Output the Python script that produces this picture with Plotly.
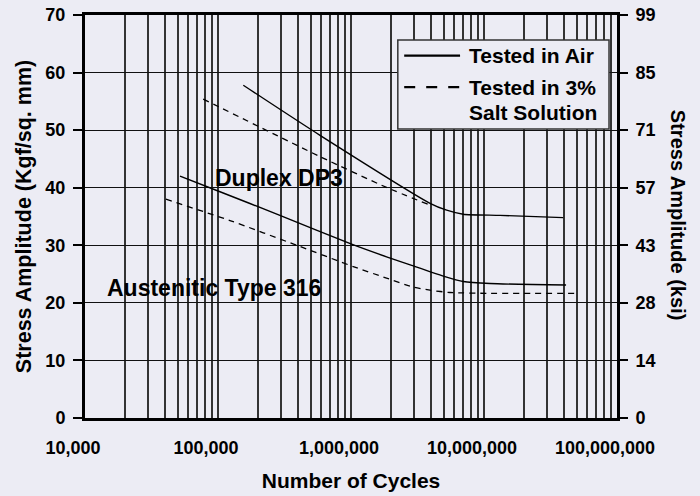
import plotly.graph_objects as go

# ---------------- data ----------------
duplex_air_x = [155000, 585000, 3930000, 5240000, 6980000, 13200000, 39400000]
duplex_air_y = [57.8, 49.1, 37.3, 36.1, 35.4, 35.2, 34.8]

duplex_salt_x = [77400, 585000, 1850000, 3810000]
duplex_salt_y = [55.4, 45.4, 40.05, 37.1]

aus_air_x = [51800, 103500, 292000, 1010000, 1850000, 2860000, 4940000, 6980000, 11100000, 41400000]
aus_air_y = [42.0, 39.3, 35.2, 30.2, 28.0, 26.5, 24.65, 23.7, 23.35, 23.1]

aus_salt_x = [40600, 123000, 391000, 1040000, 1850000, 2860000, 3930000, 5550000, 11100000, 50200000]
aus_salt_y = [38.0, 34.3, 30.0, 26.3, 24.3, 22.8, 22.2, 21.8, 21.65, 21.65]

decades = [10000, 100000, 1000000, 10000000, 100000000]
decade_labels = ["10,000", "100,000", "1,000,000", "10,000,000", "100,000,000"]
kgf_ticks = [0, 10, 20, 30, 40, 50, 60, 70]
ksi_labels = ["0", "14", "28", "43", "57", "71", "85", "99"]

legend_air = "Tested in Air"
legend_salt = "Tested in 3%"
legend_salt2 = "Salt Solution"
label_duplex = "Duplex DP3"
label_aus = "Austenitic Type 316"
right_title = "Stress Amplitude (ksi)"

# ---------------- styling ----------------
BG = "#ECECF4"
FONT = "Liberation Sans, Arial, Helvetica, sans-serif"

# grid positions: every integer multiple within each decade
grid_vals = []
grid_text = []
for i, d in enumerate(decades[:-1]):
    for m in range(1, 10):
        grid_vals.append(d * m)
        grid_text.append(decade_labels[i] if m == 1 else "")
grid_vals.append(decades[-1])
grid_text.append(decade_labels[-1])

fig = go.Figure()

line_solid = dict(color="black", width=1.4, shape="spline", smoothing=0.6)
line_dash = dict(color="black", width=1.3, shape="spline", smoothing=0.6, dash="6px,5px")

fig.add_trace(go.Scatter(x=duplex_air_x, y=duplex_air_y, mode="lines", line=line_solid,
                         name="Duplex DP3 – air", showlegend=False))
fig.add_trace(go.Scatter(x=duplex_salt_x, y=duplex_salt_y, mode="lines", line=line_dash,
                         name="Duplex DP3 – salt", showlegend=False))
fig.add_trace(go.Scatter(x=aus_air_x, y=aus_air_y, mode="lines", line=line_solid,
                         name="Type 316 – air", showlegend=False))
fig.add_trace(go.Scatter(x=aus_salt_x, y=aus_salt_y, mode="lines", line=line_dash,
                         name="Type 316 – salt", showlegend=False))
# dummy trace to activate the right axis
fig.add_trace(go.Scatter(x=[decades[0]], y=[0], yaxis="y2", mode="markers",
                         marker=dict(opacity=0), showlegend=False, hoverinfo="skip"))

tickfont = dict(family=FONT, size=18, color="black", weight="bold")
titlefont = dict(family=FONT, size=21, color="black", weight="bold")

fig.update_layout(
    width=700, height=496,
    paper_bgcolor=BG, plot_bgcolor=BG,
    margin=dict(l=85, r=83, t=15, b=78, autoexpand=False),
    showlegend=False,
    xaxis=dict(
        type="log", range=[4, 8], automargin=False,
        tickmode="array", tickvals=grid_vals, ticktext=grid_text,
        ticks="", showgrid=True, gridcolor="#333333", gridwidth=1.5,
        showline=True, linecolor="black", linewidth=3, mirror=True,
        tickfont=tickfont, ticklabelshift=-12, ticklabelstandoff=11,
        title=dict(text="Number of Cycles", font=titlefont, standoff=17),
        zeroline=False,
    ),
    yaxis=dict(
        range=[0, 70], tickmode="array", tickvals=kgf_ticks, automargin=False,
        ticks="outside", ticklen=9, tickwidth=1.5, tickcolor="black",
        showgrid=True, gridcolor="#111111", gridwidth=1.3,
        showline=True, linecolor="black", linewidth=3, mirror=True,
        tickfont=tickfont, ticklabelstandoff=4,
        title=dict(text="Stress Amplitude (Kgf/sq. mm)",
                   font=dict(family=FONT, size=21.5, color="black", weight="bold"), standoff=8),
        zeroline=False,
    ),
    yaxis2=dict(
        overlaying="y", side="right", range=[0, 70], automargin=False,
        tickmode="array", tickvals=kgf_ticks, ticktext=ksi_labels,
        ticks="outside", ticklen=10, tickwidth=1.5, tickcolor="black",
        showgrid=False, showline=False, zeroline=False,
        tickfont=tickfont, ticklabelstandoff=4,
    ),
)

# right axis title reads top-to-bottom
fig.add_annotation(xref="paper", yref="paper", x=1.1147, y=0.504, text=right_title,
                   textangle=90, showarrow=False, xanchor="center", yanchor="middle",
                   font=dict(family=FONT, size=20, color="black", weight="bold"))

# curve labels
fig.add_annotation(x=4.962, y=41.7, text=label_duplex, showarrow=False, xanchor="left",
                   yanchor="middle", font=dict(family=FONT, size=23, color="black", weight="bold"))
fig.add_annotation(x=4.150, y=22.6, text=label_aus, showarrow=False, xanchor="left",
                   yanchor="middle", font=dict(family=FONT, size=23, color="black", weight="bold"))

# legend box drawn in paper coordinates
fig.add_shape(type="rect", xref="paper", yref="paper", x0=0.588, x1=0.985, y0=0.717, y1=0.938,
              line=dict(color="#333333", width=1.5), fillcolor=BG, layer="above")
fig.add_shape(type="line", xref="paper", yref="paper", x0=0.600, x1=0.705, y0=0.899, y1=0.899,
              line=dict(color="black", width=2.2), layer="above")
fig.add_shape(type="line", xref="paper", yref="paper", x0=0.600, x1=0.705, y0=0.821, y1=0.821,
              line=dict(color="black", width=2.2, dash="11px,11px"), layer="above")
legfont = dict(family=FONT, size=21, color="black", weight="bold")
fig.add_annotation(xref="paper", yref="paper", x=0.718, y=0.899, text=legend_air, showarrow=False,
                   xanchor="left", yanchor="middle", font=legfont)
fig.add_annotation(xref="paper", yref="paper", x=0.718, y=0.821, text=legend_salt, showarrow=False,
                   xanchor="left", yanchor="middle", font=legfont)
fig.add_annotation(xref="paper", yref="paper", x=0.966, y=0.759, text=legend_salt2, showarrow=False,
                   xanchor="right", yanchor="middle", font=legfont)

fig.write_html(
    "out.html",
    config={"displayModeBar": False},
    post_script="document.body.style.margin='0';document.body.style.background='" + BG + "';",
)
